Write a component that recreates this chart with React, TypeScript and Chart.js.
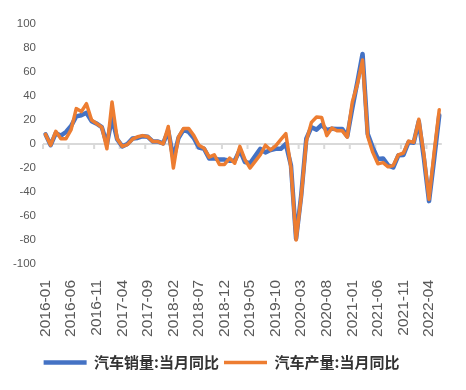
import React, { useEffect, useRef } from "react";
import { Chart, registerables } from "chart.js";

Chart.register(...registerables);

const categories = [
  "2016-01","2016-02","2016-03","2016-04","2016-05","2016-06","2016-07","2016-08","2016-09","2016-10","2016-11","2016-12",
  "2017-01","2017-02","2017-03","2017-04","2017-05","2017-06","2017-07","2017-08","2017-09","2017-10","2017-11","2017-12",
  "2018-01","2018-02","2018-03","2018-04","2018-05","2018-06","2018-07","2018-08","2018-09","2018-10","2018-11","2018-12",
  "2019-01","2019-02","2019-03","2019-04","2019-05","2019-06","2019-07","2019-08","2019-09","2019-10","2019-11","2019-12",
  "2020-01","2020-02","2020-03","2020-04","2020-05","2020-06","2020-07","2020-08","2020-09","2020-10","2020-11","2020-12",
  "2021-01","2021-02","2021-03","2021-04","2021-05","2021-06","2021-07","2021-08","2021-09","2021-10","2021-11","2021-12",
  "2022-01","2022-02","2022-03","2022-04","2022-05","2022-06",
];

const salesYoY = [
  8, -1, 9, 7, 10, 15, 23, 24, 26, 19, 17, 14,
  0, 22, 4, -2, 0, 4.5, 5, 6.5, 6, 2, 2, 0.5,
  11, -12, 5, 12, 10, 5, -3, -4, -12, -12, -13, -13,
  -14, -14, -5, -15, -16, -10, -4, -7, -5, -4, -4, 0,
  -18, -79, -43, 4.4, 14, 12, 16, 11.6, 12.8, 12.5, 12.6, 6.4,
  30, 52, 75, 8.6, -3, -12.4, -12, -17.8, -19.6, -9.4, -9.1, 1.7,
  1, 19, -12, -47.6, -12.6, 24,
];

const productionYoY = [
  8, -1, 10.6, 4.4, 4.4, 12, 29.5, 27, 33.6, 20, 17, 14,
  -4, 35, 4.4, -2, -0.5, 4, 6, 7, 6, 2, 2, 0,
  14.6, -20, 6, 13, 13, 7, -1, -3.5, -11, -9, -17, -17,
  -11.7, -16, -2, -13, -20, -14.5, -9, -1, -5, -1.5, 3.6, 8.6,
  -20, -80, -44, 2.3, 18, 22.5, 22, 7, 13.3, 11, 11.1, 5.7,
  35, 50, 70, 6.4, -7, -16.5, -15.5, -19, -18, -9, -7.5, 2.4,
  1.4, 20.6, -9, -46, -7, 28.5,
];

const seriesNames = ["汽车销量:当月同比", "汽车产量:当月同比"];
const yTicks = { min: -100, max: 100, step: 20 };
const labelEvery = 5;

const zeroTicksPlugin = {
  id: "zeroTicks",
  beforeDatasetsDraw(chart: any) {
    const xs = chart.scales.x;
    const ys = chart.scales.y;
    const ctx = chart.ctx;
    const y0 = ys.getPixelForValue(0);
    const w = xs.getPixelForValue(1) - xs.getPixelForValue(0);
    ctx.save();
    ctx.strokeStyle = "#d9d9d9";
    ctx.lineWidth = 2;
    ctx.beginPath();
    for (let k = 0; k < categories.length; k += labelEvery) {
      const px = xs.getPixelForValue(k) - w / 2;
      ctx.moveTo(px, y0);
      ctx.lineTo(px, y0 + 5);
    }
    ctx.stroke();
    ctx.restore();
  },
};

export default function App() {
  const ref = useRef<HTMLCanvasElement | null>(null);
  useEffect(() => {
    if (!ref.current) return;
    const chart = new Chart(ref.current, {
      type: "line",
      data: {
        labels: categories,
        datasets: [
          {
            label: seriesNames[0],
            data: salesYoY,
            borderColor: "#4472C4",
            backgroundColor: "#4472C4",
            borderWidth: 4.5,
            pointRadius: 0,
            tension: 0,
            borderJoinStyle: "round",
            borderCapStyle: "round",
            order: 1,
          },
          {
            label: seriesNames[1],
            data: productionYoY,
            borderColor: "#ED7D31",
            backgroundColor: "#ED7D31",
            borderWidth: 3.5,
            pointRadius: 0,
            tension: 0,
            borderJoinStyle: "round",
            borderCapStyle: "round",
            order: 0,
          },
        ],
      },
      options: {
        animation: false,
        responsive: true,
        maintainAspectRatio: false,
        layout: { padding: { top: 24, right: 23, bottom: 10, left: 0 } },
        plugins: {
          tooltip: { enabled: false },
          legend: {
            position: "bottom",
            labels: {
              usePointStyle: true,
              pointStyle: "line",
              pointStyleWidth: 43,
              boxHeight: 15,
              padding: 5,
              color: "#333333",
              font: { family: "'Noto Sans CJK SC'", size: 15, weight: "bold" },
              sort: (a: any, b: any) => a.datasetIndex - b.datasetIndex,
            },
          },
        },
        scales: {
          x: {
            type: "category",
            offset: true,
            grid: { display: false },
            border: { display: false },
            afterFit: (s: any) => {
              s.height = 86;
            },
            ticks: {
              autoSkip: false,
              maxRotation: 90,
              minRotation: 90,
              padding: 8,
              color: "#595959",
              font: { family: "'Liberation Sans'", size: 15.5 },
              callback: (_v: any, i: number) => (i % labelEvery === 0 ? categories[i] : ""),
            },
          },
          y: {
            min: yTicks.min,
            max: yTicks.max,
            border: { display: false },
            afterFit: (s: any) => {
              s.width = 43;
            },
            grid: {
              drawTicks: false,
              lineWidth: 2,
              color: (c: any) => (c.tick && c.tick.value === 0 ? "#d9d9d9" : "rgba(0,0,0,0)"),
            },
            ticks: {
              stepSize: yTicks.step,
              padding: 7,
              color: "#595959",
              font: { family: "'Liberation Sans'", size: 11.5 },
            },
          },
        },
      },
      plugins: [zeroTicksPlugin],
    });
    return () => chart.destroy();
  }, []);
  return (
    <div style={{ position: "fixed", left: 0, top: 0, width: 466, height: 390, background: "#fff" }}>
      <canvas ref={ref} />
    </div>
  );
}
